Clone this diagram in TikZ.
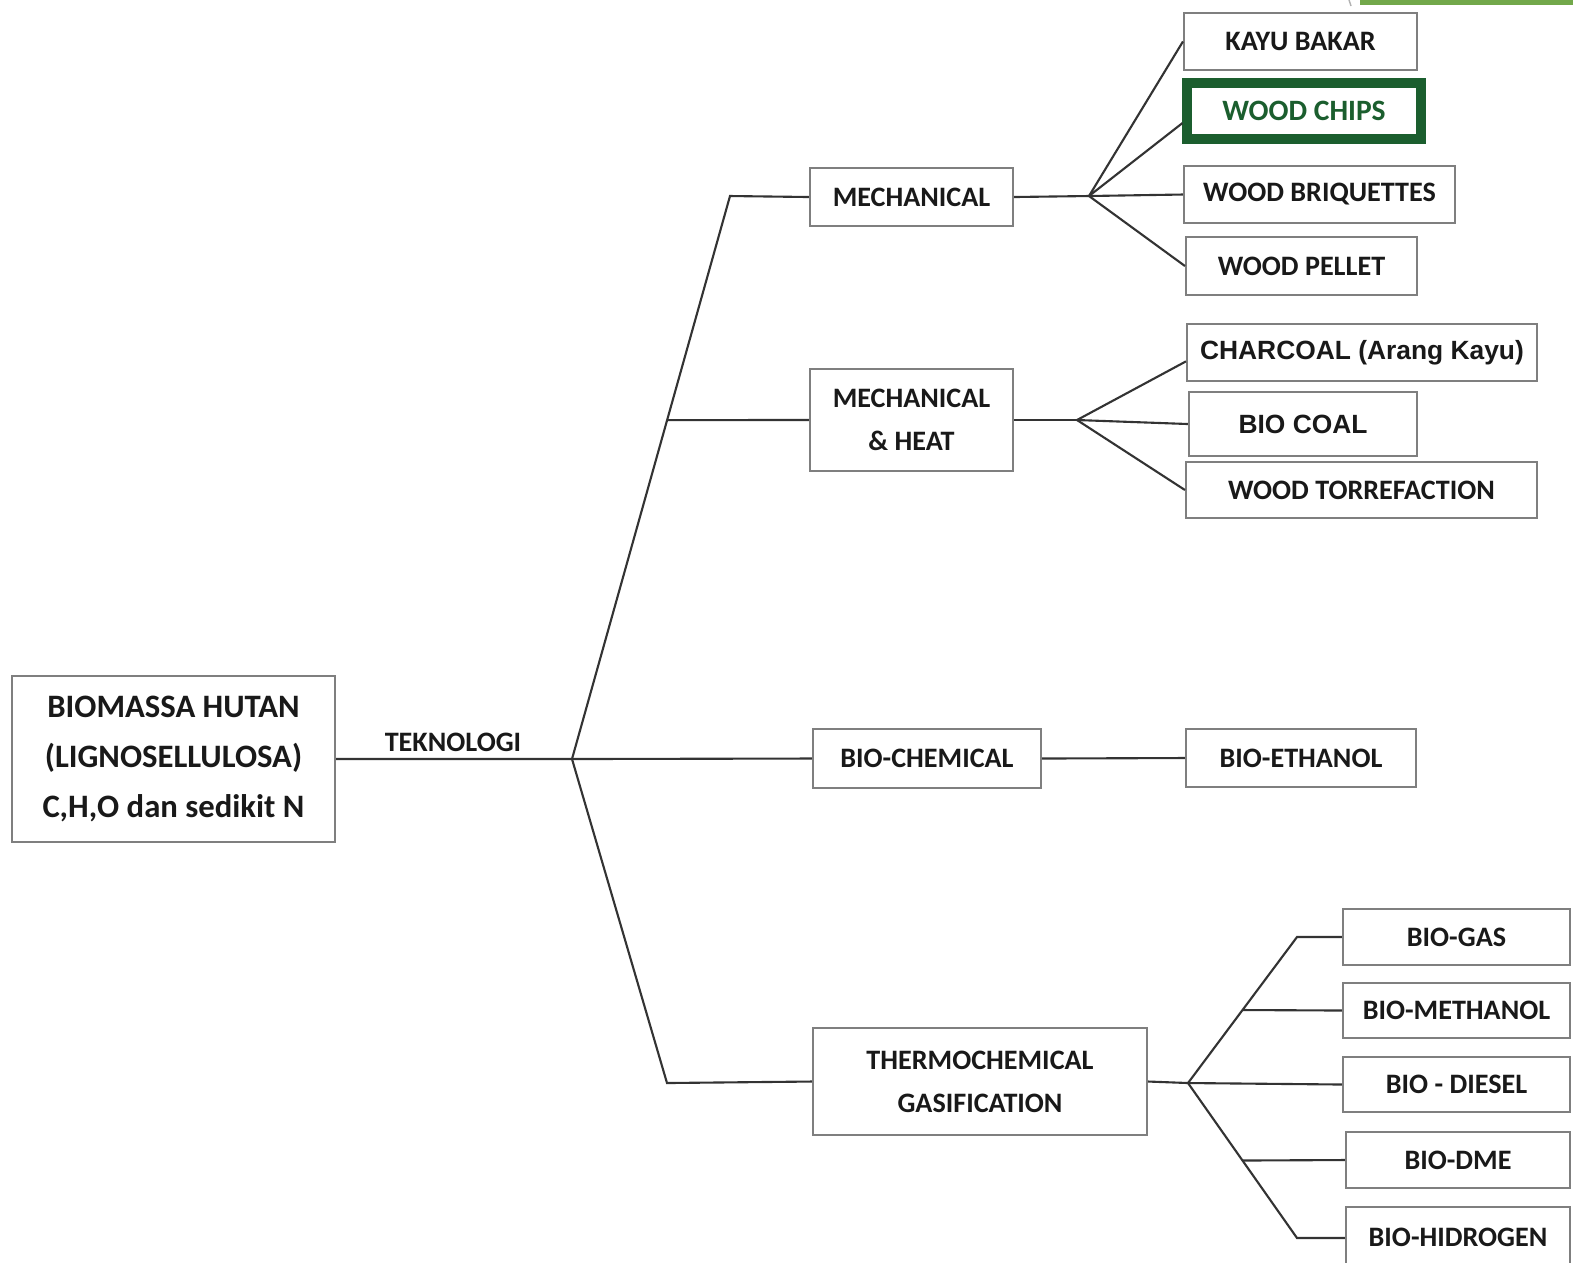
\documentclass[tikz,border=0pt]{standalone}
\usepackage{fontspec}
\setmainfont{Carlito}
\newfontfamily\arialf{Liberation Sans}
\usetikzlibrary{calc}
\definecolor{connc}{HTML}{333333}
\definecolor{boxline}{HTML}{7F7F7F}
\definecolor{chipgreen}{HTML}{1B5E2E}
\definecolor{topbar}{HTML}{72A84A}
% \rbox{style}{name}{x1}{y1}{x2}{y2}{text}
\newcommand\rbox[7]{%
  \node[#1, minimum width={(#5-#3)*0.01cm}, minimum height={(#6-#4)*0.01cm}]
    (#2) at ({(#3+#5)/2},{(#4+#6)/2}) {#7};}
\begin{document}
\begin{tikzpicture}[x=0.01cm,y=-0.01cm,
  box/.style={draw=boxline, line width=0.6pt, inner sep=0pt, align=center,
    text=black!90, font=\bfseries\fontsize{8}{12.2}\selectfont},
  arialbox/.style={box, font=\arialf\bfseries\fontsize{7.5}{9}\selectfont},
  chipbox/.style={box, draw=chipgreen, line width=2.6pt, text=chipgreen,
    font=\bfseries\fontsize{8.4}{10}\selectfont},
  bigbox/.style={box, font=\bfseries\fontsize{9.3}{14.2}\selectfont},
  conn/.style={draw=connc, line width=0.6pt}]
\clip (0,0) rectangle (1573,1262);
\fill[white] (0,0) rectangle (1573,1262);
% top-right decoration
\fill[topbar] (1360,0) rectangle (1573,5);
\draw[gray!60, line width=0.4pt] (1349,0) -- (1351,6);

% nodes
\rbox{bigbox}{bio}{12}{676}{335}{842}{BIOMASSA HUTAN\\(LIGNOSELLULOSA)\\C,H,O dan sedikit N}
\node[font=\bfseries\fontsize{8}{10}\selectfont, text=black!90] (tek) at (453,742) {TEKNOLOGI};

\rbox{box}{mech}{810}{168}{1013}{226}{MECHANICAL}
\rbox{box}{mh}{810}{369}{1013}{471}{MECHANICAL\\\& HEAT}
\rbox{box}{bioc}{813}{729}{1041}{788}{BIO-CHEMICAL}
\rbox{box}{thermo}{813}{1028}{1147}{1135}{THERMOCHEMICAL\\GASIFICATION}

\rbox{box}{kayu}{1184}{13}{1417}{70}{KAYU BAKAR}
\rbox{chipbox}{chips}{1187}{83}{1421}{139}{WOOD CHIPS}
\rbox{box}{briq}{1184}{166}{1455}{223}{WOOD BRIQUETTES}
\rbox{box}{pellet}{1186}{237}{1417}{295}{WOOD PELLET}

\rbox{arialbox}{charcoal}{1187}{324}{1537}{381}{CHARCOAL (Arang Kayu)}
\rbox{arialbox}{biocoal}{1189}{392}{1417}{456}{BIO COAL}
\rbox{box}{torr}{1186}{462}{1537}{518}{WOOD TORREFACTION}

\rbox{box}{eth}{1186}{729}{1416}{787}{BIO-ETHANOL}

\rbox{box}{gas}{1343}{909}{1570}{965}{BIO-GAS}
\rbox{box}{meth}{1343}{983}{1570}{1038}{BIO-METHANOL}
\rbox{box}{diesel}{1343}{1057}{1570}{1112}{BIO - DIESEL}
\rbox{box}{dme}{1346}{1132}{1570}{1188}{BIO-DME}
\rbox{box}{hidro}{1346}{1207}{1570}{1268}{BIO-HIDROGEN}

% junction coordinates
\coordinate (hub) at (572,759);
\coordinate (vtop) at (730,196);
\coordinate (vbot) at (667,1083);
\coordinate (hm) at (1089,196);
\coordinate (hh) at (1077,420);
\coordinate (ht) at (1188,1083);
\coordinate (gtop) at (1297,937);
\coordinate (gbot) at (1297,1238);

% main tree
\draw[conn] (bio.east) -- (hub) -- (bioc.west);
\draw[conn] (hub) -- (vtop) -- (mech.west);
\draw[conn] (hub) -- (vbot) -- (thermo.west);
\draw[conn] ($(hub)!0.602!(vtop)$) -- (mh.west);

% mechanical
\draw[conn] (mech.east) -- (hm);
\draw[conn] (hm) -- (kayu.west);
\draw[conn] (hm) -- ($(chips.west)!0.37!(chips.south west)$);
\draw[conn] (hm) -- (briq.west);
\draw[conn] (hm) -- (pellet.west);

% mechanical & heat
\draw[conn] (mh.east) -- (hh);
\draw[conn] (hh) -- ($(charcoal.west)!0.3!(charcoal.south west)$);
\draw[conn] (hh) -- (biocoal.west);
\draw[conn] (hh) -- (torr.west);

% bio-chemical
\draw[conn] (bioc.east) -- (eth.west);

% thermochemical
\draw[conn] (thermo.east) -- (ht) -- (diesel.west);
\draw[conn] (ht) -- (gtop) -- (gas.west);
\draw[conn] (ht) -- (gbot) -- (hidro.west |- gbot);
\draw[conn] ($(ht)!0.5!(gtop)$) -- (meth.west);
\draw[conn] ($(ht)!0.5!(gbot)$) -- (dme.west);
\end{tikzpicture}
\end{document}
